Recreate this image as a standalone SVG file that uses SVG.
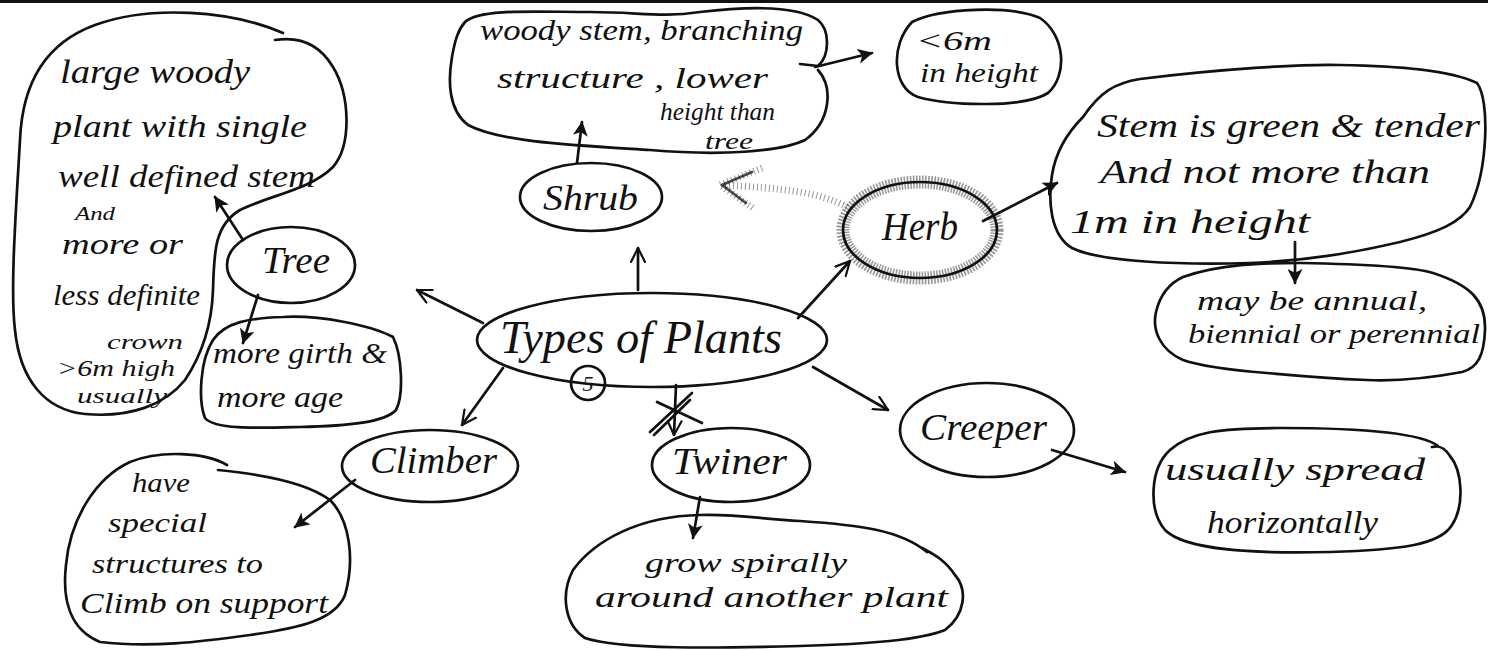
<svg xmlns="http://www.w3.org/2000/svg" width="1488" height="650" viewBox="0 0 1488 650">
  <style>
    .ink { fill: none; stroke: #111; stroke-width: 2.7; stroke-linecap: round; stroke-linejoin: round; }
    .hw { font-family: "Liberation Serif", "DejaVu Serif", serif; font-style: italic; fill: #111; }
    .halo { fill: none; stroke: #444; stroke-width: 13; stroke-dasharray: 1.6 1.4; opacity: 0.55; }
    .grain { fill: none; stroke: #444; stroke-width: 7; stroke-dasharray: 1 3; stroke-linecap: butt; opacity: 0.55; }
  </style>
  <defs>
    <marker id="solid" viewBox="0 0 14 14" refX="13" refY="7" markerWidth="15" markerHeight="15" markerUnits="userSpaceOnUse" orient="auto">
      <path d="M0,0 L14,7 L0,14 L3.5,7 Z" fill="#111"/>
    </marker>
    <marker id="open" viewBox="0 0 16 16" refX="15" refY="8" markerWidth="16" markerHeight="16" markerUnits="userSpaceOnUse" orient="auto">
      <path d="M1,1 L15,8 L1,15" fill="none" stroke="#111" stroke-width="2.2" stroke-linecap="round"/>
    </marker>
  </defs>

  <rect width="1488" height="650" fill="#fff"/>
  <!-- page edge along the top -->
  <line x1="0" y1="1.5" x2="1488" y2="1.5" stroke="#111" stroke-width="3"/>

  <!-- Tree description -->
  <g id="tree-desc">
    <path class="ink" d="M283,33 C230,10 150,5 95,25 C40,45 22,90 20,140 C16,210 10,290 15,330 C20,380 45,410 85,414 C130,418 165,405 185,380 C205,350 212,320 213,290 C214,250 215,225 240,210 C270,195 310,190 333,167 C352,145 350,95 333,67 C320,45 300,36 275,40"/>
    <text class="hw" x="60" y="83" font-size="34" textLength="190" lengthAdjust="spacingAndGlyphs">large woody</text>
    <text class="hw" x="53" y="137" font-size="32" textLength="254" lengthAdjust="spacingAndGlyphs">plant with single</text>
    <text class="hw" x="58" y="187" font-size="32" textLength="257" lengthAdjust="spacingAndGlyphs">well defined stem</text>
    <text class="hw" x="75" y="220" font-size="18" textLength="40" lengthAdjust="spacingAndGlyphs">And</text>
    <text class="hw" x="62" y="254" font-size="30" textLength="121" lengthAdjust="spacingAndGlyphs">more or</text>
    <text class="hw" x="53" y="305" font-size="30" textLength="147" lengthAdjust="spacingAndGlyphs">less definite</text>
    <text class="hw" x="107" y="349" font-size="22" textLength="76" lengthAdjust="spacingAndGlyphs">crown</text>
    <text class="hw" x="57" y="376" font-size="24" textLength="118" lengthAdjust="spacingAndGlyphs">&gt;6m high</text>
    <text class="hw" x="77" y="403" font-size="22" textLength="90" lengthAdjust="spacingAndGlyphs">usually</text>
  </g>

  <g id="tree">
    <ellipse class="ink" cx="291" cy="265" rx="64" ry="38"/>
    <text class="hw" x="262" y="273" font-size="38" textLength="68" lengthAdjust="spacingAndGlyphs">Tree</text>
  </g>

  <g id="tree-girth">
    <path class="ink" d="M393,337 C370,325 320,315 283,317 C250,318 225,322 213,340 C200,360 198,400 205,418 C215,430 260,428 300,427 C350,426 385,422 396,410 C404,395 402,355 393,337"/>
    <text class="hw" x="213" y="363" font-size="30" textLength="174" lengthAdjust="spacingAndGlyphs">more girth &amp;</text>
    <text class="hw" x="217" y="407" font-size="30" textLength="126" lengthAdjust="spacingAndGlyphs">more age</text>
  </g>

  <!-- Shrub and its notes -->
  <g id="shrub-desc">
    <path class="ink" d="M465,22 C480,8 540,12 590,12 C640,12 660,18 700,12 C760,5 800,8 818,20 C830,30 830,55 818,66 L800,64 M818,70 C834,88 830,122 805,140 C780,152 720,156 650,150 C570,145 500,142 468,125 C448,110 448,80 452,57 C455,40 458,30 465,22"/>
    <text class="hw" x="480" y="40" font-size="30" textLength="323" lengthAdjust="spacingAndGlyphs">woody stem, branching</text>
    <text class="hw" x="497" y="88" font-size="30" textLength="271" lengthAdjust="spacingAndGlyphs">structure , lower</text>
    <text class="hw" x="660" y="120" font-size="25" textLength="115" lengthAdjust="spacingAndGlyphs">height than</text>
    <text class="hw" x="705" y="149" font-size="24" textLength="48" lengthAdjust="spacingAndGlyphs">tree</text>
  </g>

  <g id="shrub-height">
    <path class="ink" d="M912,22 C940,8 1010,5 1040,18 C1065,35 1068,75 1048,93 C1025,108 950,106 918,97 C892,88 890,45 912,22"/>
    <text class="hw" x="916" y="50" font-size="28" textLength="76" lengthAdjust="spacingAndGlyphs">&lt;6m</text>
    <text class="hw" x="920" y="82" font-size="28" textLength="118" lengthAdjust="spacingAndGlyphs">in height</text>
  </g>

  <g id="shrub">
    <ellipse class="ink" cx="591" cy="197" rx="71" ry="34"/>
    <text class="hw" x="543" y="210" font-size="36" textLength="95" lengthAdjust="spacingAndGlyphs">Shrub</text>
  </g>

  <!-- Herb and its notes -->
  <g id="herb">
    <ellipse class="halo" cx="920" cy="230" rx="77" ry="48"/>
    <ellipse class="ink" cx="920" cy="230" rx="77" ry="48" stroke-width="4"/>
    <text class="hw" x="882" y="240" font-size="40" textLength="76" lengthAdjust="spacingAndGlyphs">Herb</text>
  </g>

  <g id="herb-desc">
    <path class="ink" d="M1083,117 C1100,92 1115,83 1140,79 C1220,69 1300,64 1340,65 C1400,66 1450,70 1477,83 C1490,100 1488,170 1470,207 C1460,222 1440,232 1400,242 C1350,254 1300,261 1250,263 C1180,265 1100,262 1072,248 C1050,235 1048,200 1052,175 C1056,150 1070,130 1083,117"/>
    <text class="hw" x="1097" y="137" font-size="34" textLength="383" lengthAdjust="spacingAndGlyphs">Stem is green &amp; tender</text>
    <text class="hw" x="1100" y="183" font-size="34" textLength="330" lengthAdjust="spacingAndGlyphs">And not more than</text>
    <text class="hw" x="1070" y="233" font-size="34" textLength="240" lengthAdjust="spacingAndGlyphs">1m in height</text>
  </g>

  <g id="herb-life">
    <path class="ink" d="M1183,277 C1220,264 1260,263 1300,263 C1360,264 1410,266 1433,273 C1470,285 1486,300 1485,330 C1484,355 1478,368 1462,372 C1420,380 1390,381 1367,380 C1320,378 1290,375 1267,373 C1230,370 1200,366 1183,360 C1160,350 1152,330 1156,312 C1160,295 1170,283 1183,277"/>
    <text class="hw" x="1197" y="310" font-size="28" textLength="230" lengthAdjust="spacingAndGlyphs">may be annual,</text>
    <text class="hw" x="1188" y="343" font-size="28" textLength="292" lengthAdjust="spacingAndGlyphs">biennial or perennial</text>
  </g>

  <!-- central topic -->
  <g id="types">
    <ellipse class="ink" cx="652" cy="340" rx="175" ry="47"/>
    <text class="hw" x="500" y="353" font-size="46" textLength="282" lengthAdjust="spacingAndGlyphs">Types of Plants</text>
    <circle class="ink" cx="588" cy="383" r="17" stroke-width="2"/>
    <text class="hw" x="588" y="391" font-size="22" text-anchor="middle">5</text>
  </g>

  <!-- Climber -->
  <g id="climber">
    <ellipse class="ink" cx="430" cy="466" rx="88" ry="36"/>
    <text class="hw" x="370" y="473" font-size="38" textLength="127" lengthAdjust="spacingAndGlyphs">Climber</text>
  </g>

  <g id="climber-desc">
    <path class="ink" d="M227,465 C205,452 160,450 130,462 C95,478 70,520 66,565 C62,600 70,630 100,642 C150,648 200,642 250,635 C300,628 335,620 345,595 C355,560 350,520 330,500 C310,485 270,475 218,470"/>
    <text class="hw" x="132" y="492" font-size="28" textLength="58" lengthAdjust="spacingAndGlyphs">have</text>
    <text class="hw" x="108" y="532" font-size="28" textLength="99" lengthAdjust="spacingAndGlyphs">special</text>
    <text class="hw" x="92" y="573" font-size="28" textLength="171" lengthAdjust="spacingAndGlyphs">structures to</text>
    <text class="hw" x="80" y="613" font-size="30" textLength="248" lengthAdjust="spacingAndGlyphs">Climb on support</text>
  </g>

  <!-- Twiner -->
  <g id="twiner">
    <ellipse class="ink" cx="731" cy="465" rx="79" ry="37"/>
    <text class="hw" x="672" y="474" font-size="38" textLength="115" lengthAdjust="spacingAndGlyphs">Twiner</text>
  </g>

  <g id="twiner-desc">
    <path class="ink" d="M927,552 C900,530 860,525 800,521 C760,519 740,514 700,515 C640,516 595,540 573,570 C560,595 565,625 585,638 C620,650 720,648 800,646 C870,644 920,640 945,630 C965,615 968,590 955,575 C945,560 935,555 922,548"/>
    <text class="hw" x="645" y="572" font-size="28" textLength="202" lengthAdjust="spacingAndGlyphs">grow spirally</text>
    <text class="hw" x="595" y="607" font-size="30" textLength="353" lengthAdjust="spacingAndGlyphs">around another plant</text>
  </g>

  <!-- Creeper -->
  <g id="creeper">
    <ellipse class="ink" cx="987" cy="430" rx="87" ry="47"/>
    <text class="hw" x="920" y="440" font-size="38" textLength="127" lengthAdjust="spacingAndGlyphs">Creeper</text>
  </g>

  <g id="creeper-desc">
    <path class="ink" d="M1438,446 C1420,432 1350,428 1280,428 C1220,428 1190,432 1170,450 C1150,468 1148,510 1165,530 C1185,550 1250,554 1330,552 C1400,550 1440,545 1452,525 C1465,505 1462,470 1450,456 C1445,448 1440,445 1432,447"/>
    <text class="hw" x="1165" y="480" font-size="32" textLength="260" lengthAdjust="spacingAndGlyphs">usually spread</text>
    <text class="hw" x="1207" y="533" font-size="32" textLength="171" lengthAdjust="spacingAndGlyphs">horizontally</text>
  </g>

  <!-- connectors -->
  <g id="connectors">
    <line class="ink" x1="483" y1="323" x2="417" y2="290" marker-end="url(#open)"/>
    <line class="ink" x1="638" y1="290" x2="638" y2="248" marker-end="url(#open)"/>
    <line class="ink" x1="798" y1="318" x2="850" y2="261" marker-end="url(#open)"/>
    <line class="ink" x1="503" y1="368" x2="462" y2="425" marker-end="url(#open)"/>
    <line class="ink" x1="676" y1="385" x2="674" y2="435" marker-end="url(#open)"/>
    <line class="ink" x1="813" y1="367" x2="888" y2="410" marker-end="url(#open)"/>
    <!-- crossed-out mark over the Twiner link -->
    <path class="ink" d="M657,402 L702,423 M650,432 L692,393 M654,435 L690,400"/>

    <line class="ink" x1="243" y1="240" x2="215" y2="197" marker-end="url(#solid)"/>
    <line class="ink" x1="258" y1="295" x2="243" y2="343" marker-end="url(#solid)"/>
    <line class="ink" x1="577" y1="163" x2="582" y2="122" marker-end="url(#solid)"/>
    <line class="ink" x1="815" y1="67" x2="872" y2="53" marker-end="url(#solid)"/>
    <line class="ink" x1="983" y1="221" x2="1057" y2="183" marker-end="url(#solid)"/>
    <line class="ink" x1="1295" y1="242" x2="1295" y2="283" marker-end="url(#solid)"/>
    <line class="ink" x1="355" y1="480" x2="295" y2="527" marker-end="url(#solid)"/>
    <line class="ink" x1="700" y1="497" x2="693" y2="538" marker-end="url(#solid)"/>
    <line class="ink" x1="1052" y1="450" x2="1125" y2="472" marker-end="url(#solid)"/>

    <!-- smudged pencil arrow from Herb back towards Shrub -->
    <path class="grain" d="M847,207 C820,192 780,188 722,185"/>
    <path class="grain" d="M762,168 L720,185 L753,208"/>
    <path class="ink" d="M752,172 L722,185 L746,203" stroke-width="2.2" opacity="0.75"/>
  </g>
</svg>
